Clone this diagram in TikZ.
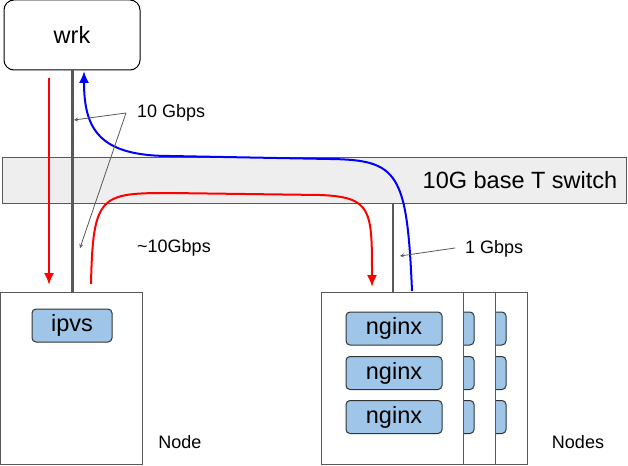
\documentclass[tikz,border=0pt]{standalone}
\usepackage{fontspec}
\setmainfont{Liberation Sans}
\usepackage{tikz}
\usetikzlibrary{arrows,arrows.meta,positioning}
\definecolor{boxgray}{HTML}{595959}
\definecolor{swfill}{HTML}{EEEEEE}
\definecolor{procblue}{HTML}{9FC5E8}
\tikzset{
    biglabel/.style={node font=\fontsize{23.5}{27}\selectfont,inner sep=0pt},
    smalllabel/.style={node font=\fontsize{18}{21}\selectfont,inner sep=0pt},
    client/.style={draw=black,rounded corners=10pt,minimum width=136pt,minimum height=70pt,line width=1pt,biglabel},
    switchbox/.style={draw=boxgray,fill=swfill,minimum width=624pt,minimum height=45pt,line width=1pt},
    hostbox/.style={draw=boxgray,fill=white,minimum width=142pt,minimum height=172pt,line width=1pt},
    proc/.style={draw=black!80,fill=procblue,rounded corners=4pt,minimum width=80pt,minimum height=33pt,line width=1pt,biglabel},
    wire/.style={draw=boxgray,line width=3pt},
    thinwire/.style={draw=boxgray,line width=2pt},
    req/.style={draw=red,-{Latex[length=12pt,width=10pt]},line width=2pt},
    resp/.style={draw=blue,-{Latex[length=12pt,width=10pt]},line width=2pt},
    pointer/.style={draw=boxgray,->,>=stealth,line width=0.8pt},
}
\begin{document}
\begin{tikzpicture}[x=1pt,y=-1pt]
    \useasboundingbox (0,0) rectangle (628,465);

    \node [client]    (wrk)  at (72,35)      {wrk};
    \node [switchbox] (sw)   at (314,180.5)  {};
    \node [biglabel,left=9pt of sw.east] (swname) {10G base T switch};

    % single node with ipvs
    \node [hostbox]   (host) at (71.5,378)   {};
    \node [proc]      (ipvs) at (72,325.5)   {ipvs};
    \node [smalllabel] (hostname) at (180,442) {Node};

    % stacked nginx nodes, back to front (only the front one shows its text)
    \foreach \i/\txt in {2/,1/,0/nginx} {
        \node [hostbox] (srv\i) at (392+32*\i,378) {};
        \node [proc,minimum width=96pt] (ng\i a) at (394+32*\i,328.5) {\txt};
        \node [proc,minimum width=96pt] (ng\i b) at (394+32*\i,373)   {\txt};
        \node [proc,minimum width=96pt] (ng\i c) at (394+32*\i,417)   {\txt};
    }
    \node [smalllabel] (srvname) at (578,442) {Nodes};

    % cables
    \path [wire] (wrk.south) -- (wrk.south |- host.north);
    \path [thinwire] ([xshift=1pt]srv0.north) -- ([xshift=1pt]srv0.north |- sw.south);

    % traffic
    \coordinate (reqtop) at (49,78);
    \coordinate (reqbot) at (49,285);
    \path [req] (reqtop) -- (reqbot);
    \coordinate (fwdstart) at (91,284);
    \coordinate (fwdend)   at (372,287);
    \path [req] (fwdstart) .. controls (93,195) and (100,193) .. (170,193)
        -- (320,195) .. controls (372,197) and (372,210) .. (fwdend);
    \coordinate (respstart) at (412,291);
    \coordinate (respend)   at (84,71);
    \path [resp] (respstart) .. controls (407,172) and (398,160) .. (330,159)
        -- (170,156) .. controls (100,156) and (84,130) .. (respend);

    % bandwidth labels
    \node [smalllabel,anchor=west] (bw10)  at (137,113) {10 Gbps};
    \coordinate (fork) at (126,113);
    \coordinate (uplink)   at (74,120);
    \coordinate (downlink) at (80,248);
    \path [pointer] (fork) -- (uplink);
    \path [pointer] (fork) -- (downlink);
    \node [smalllabel,anchor=west] (bwreal) at (137,248) {\textasciitilde10Gbps};
    \node [smalllabel,anchor=west] (bw1)   at (465,249) {1 Gbps};
    \coordinate (onegfrom) at (455,248);
    \coordinate (onegto)   at (400,256);
    \path [pointer] (onegfrom) -- (onegto);
\end{tikzpicture}
\end{document}
